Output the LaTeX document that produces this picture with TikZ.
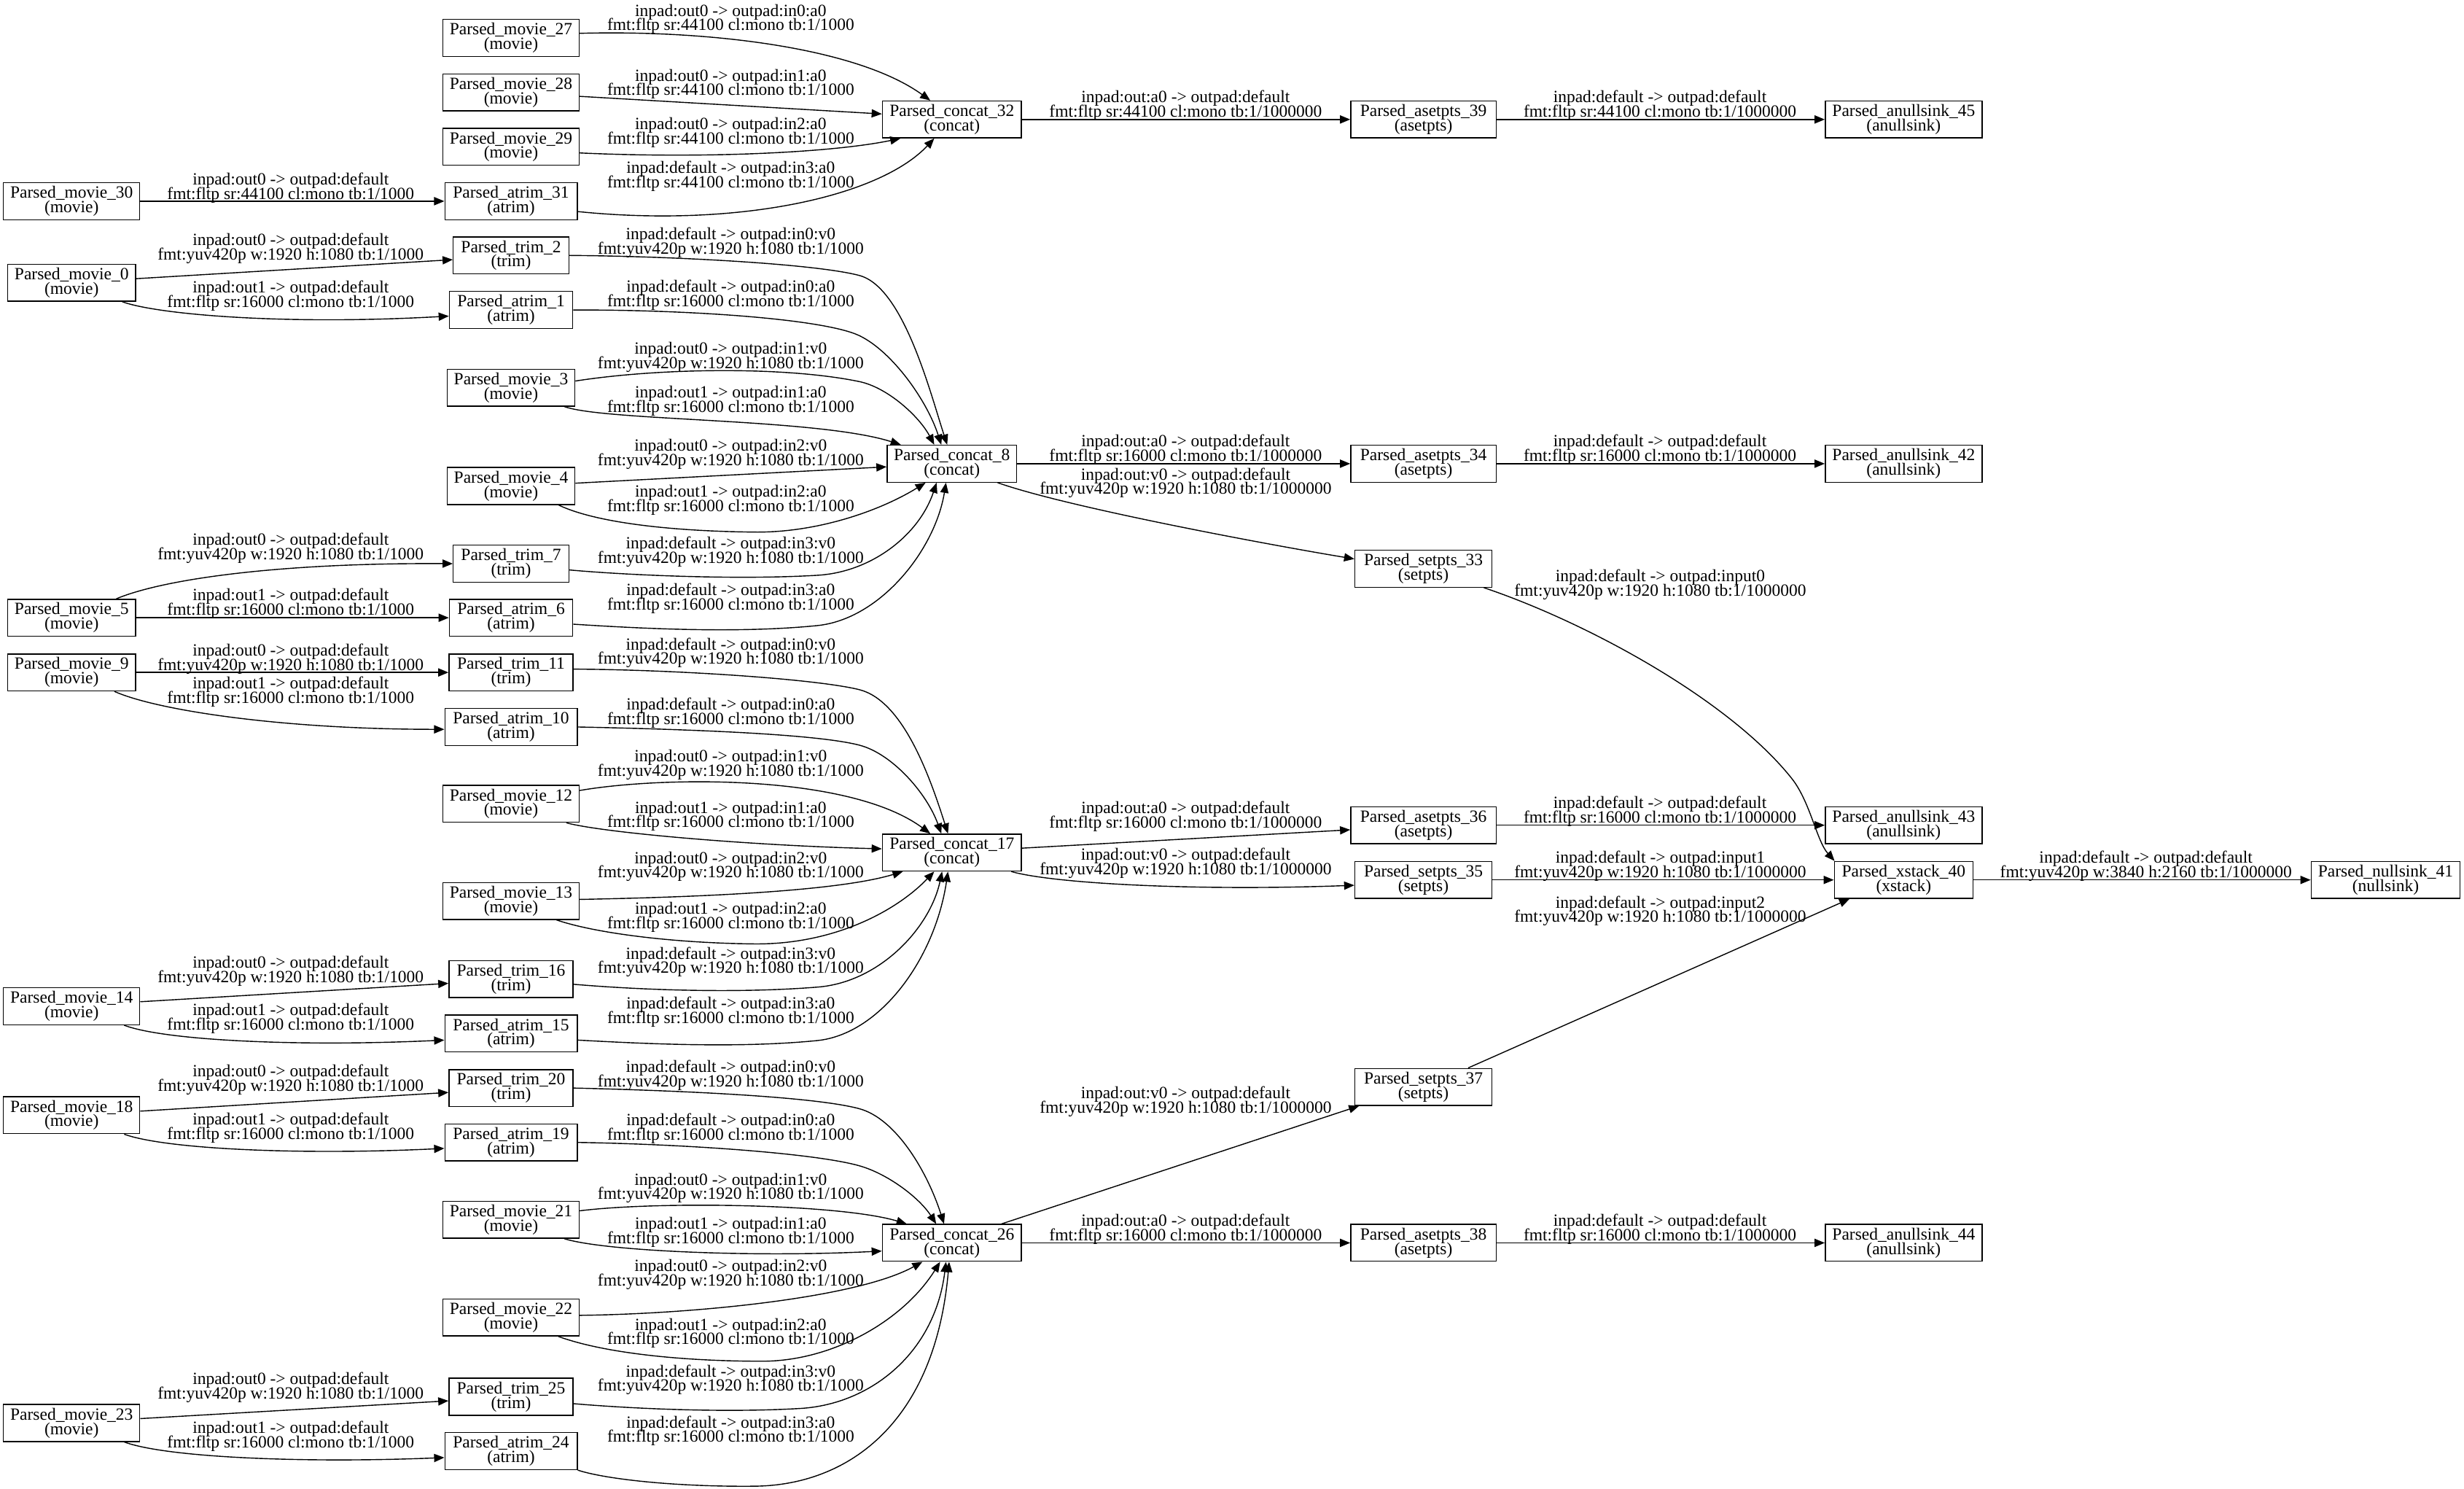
\documentclass[tikz,border=0pt]{standalone}
\usepackage{fontspec}
\setmainfont{Liberation Serif}
\usetikzlibrary{arrows.meta}
\newcommand{\gvfont}{\fontsize{10.9pt}{9.2pt}\selectfont\lineskiplimit=-20pt\relax}
\tikzset{
  box/.style={draw, line width=0.65pt, rectangle, minimum height=23.5pt, inner xsep=3pt, inner ysep=0pt, align=center, font=\gvfont},
  lab/.style={align=center, font=\gvfont, inner sep=0pt},
  edge/.style={draw, line width=0.65pt, -{Triangle[length=6.5pt,width=5.2pt]}},
  mv2/.style={box, minimum width=86.75pt},
  mv1/.style={box, minimum width=81.25pt},
  at2/.style={box, minimum width=84.25pt},
  at1/.style={box, minimum width=78.5pt},
  tr1/.style={box, minimum width=73.5pt},
  tr2/.style={box, minimum width=79pt},
  cc2/.style={box, minimum width=88.5pt},
  cc1/.style={box, minimum width=82.5pt},
  asp/.style={box, minimum width=92.5pt},
  spt/.style={box, minimum width=87.25pt},
  ans/.style={box, minimum width=99.75pt},
}
\begin{document}
\begin{tikzpicture}[x=1pt, y=-1pt]
\useasboundingbox (0,0) rectangle (1568,947);

% column 1
\node[mv2] (m30) at (45.6,128) {Parsed\_movie\_30\\(movie)};
\node[mv1] (m0) at (45.6,179.9) {Parsed\_movie\_0\\(movie)};
\node[mv1] (m5) at (45.6,393) {Parsed\_movie\_5\\(movie)};
\node[mv1] (m9) at (45.6,427.8) {Parsed\_movie\_9\\(movie)};
\node[mv2] (m14) at (45.6,640.2) {Parsed\_movie\_14\\(movie)};
\node[mv2] (m18) at (45.6,709.5) {Parsed\_movie\_18\\(movie)};
\node[mv2] (m23) at (45.6,905.3) {Parsed\_movie\_23\\(movie)};

% column 2
\node[mv2] (m27) at (325.2,24.1) {Parsed\_movie\_27\\(movie)};
\node[mv2] (m28) at (325.2,58.7) {Parsed\_movie\_28\\(movie)};
\node[mv2] (m29) at (325.2,93.4) {Parsed\_movie\_29\\(movie)};
\node[at2] (a31) at (325.2,128) {Parsed\_atrim\_31\\(atrim)};
\node[tr1] (t2) at (325.2,162.5) {Parsed\_trim\_2\\(trim)};
\node[at1] (a1) at (325.2,197.2) {Parsed\_atrim\_1\\(atrim)};
\node[mv1] (m3) at (325.2,246.6) {Parsed\_movie\_3\\(movie)};
\node[mv1] (m4) at (325.2,309.2) {Parsed\_movie\_4\\(movie)};
\node[tr1] (t7) at (325.2,358.6) {Parsed\_trim\_7\\(trim)};
\node[at1] (a6) at (325.2,393) {Parsed\_atrim\_6\\(atrim)};
\node[tr2] (t11) at (325.2,427.8) {Parsed\_trim\_11\\(trim)};
\node[at2] (a10) at (325.2,462.5) {Parsed\_atrim\_10\\(atrim)};
\node[mv2] (m12) at (325.2,511.4) {Parsed\_movie\_12\\(movie)};
\node[mv2] (m13) at (325.2,573.2) {Parsed\_movie\_13\\(movie)};
\node[tr2] (t16) at (325.2,622.9) {Parsed\_trim\_16\\(trim)};
\node[at2] (a15) at (325.2,657.5) {Parsed\_atrim\_15\\(atrim)};
\node[tr2] (t20) at (325.2,692.2) {Parsed\_trim\_20\\(trim)};
\node[at2] (a19) at (325.2,726.8) {Parsed\_atrim\_19\\(atrim)};
\node[mv2] (m21) at (325.2,776) {Parsed\_movie\_21\\(movie)};
\node[mv2] (m22) at (325.2,838.2) {Parsed\_movie\_22\\(movie)};
\node[tr2] (t25) at (325.2,888.6) {Parsed\_trim\_25\\(trim)};
\node[at2] (a24) at (325.2,923.2) {Parsed\_atrim\_24\\(atrim)};

% column 3
\node[cc2] (c32) at (605.75,76) {Parsed\_concat\_32\\(concat)};
\node[cc1] (c8) at (605.75,295) {Parsed\_concat\_8\\(concat)};
\node[cc2] (c17) at (605.75,542.4) {Parsed\_concat\_17\\(concat)};
\node[cc2] (c26) at (605.75,790.7) {Parsed\_concat\_26\\(concat)};

% column 4
\node[asp] (as39) at (905.8,76) {Parsed\_asetpts\_39\\(asetpts)};
\node[asp] (as34) at (905.8,295) {Parsed\_asetpts\_34\\(asetpts)};
\node[spt] (s33) at (905.8,361.8) {Parsed\_setpts\_33\\(setpts)};
\node[asp] (as36) at (905.8,525) {Parsed\_asetpts\_36\\(asetpts)};
\node[spt] (s35) at (905.8,559.8) {Parsed\_setpts\_35\\(setpts)};
\node[spt] (s37) at (905.8,691.5) {Parsed\_setpts\_37\\(setpts)};
\node[asp] (as38) at (905.8,790.7) {Parsed\_asetpts\_38\\(asetpts)};

% column 5
\node[ans] (an45) at (1211.4,76) {Parsed\_anullsink\_45\\(anullsink)};
\node[ans] (an42) at (1211.4,295) {Parsed\_anullsink\_42\\(anullsink)};
\node[ans] (an43) at (1211.4,525) {Parsed\_anullsink\_43\\(anullsink)};
\node[box, minimum width=88.25pt] (x40) at (1211.4,559.8) {Parsed\_xstack\_40\\(xstack)};
\node[ans] (an44) at (1211.4,790.7) {Parsed\_anullsink\_44\\(anullsink)};

% column 6
\node[box, minimum width=94.75pt] (n41) at (1518.1,559.8) {Parsed\_nullsink\_41\\(nullsink)};

% ---------- edges column 1 -> 2
\draw[edge] (m30.east) -- (a31.west);
\draw[edge] ([yshift=2.6pt]m0.east) -- ([yshift=-2.7pt]t2.west);
\draw[edge] ([xshift=-8.75pt]m0.south east) .. controls (100,200) and (180,207) .. ([yshift=-3.9pt]a1.west);
\draw[edge] ([xshift=-12.5pt]m5.north east) .. controls (105,368) and (180,358) .. (t7.west);
\draw[edge] (m5.east) -- (a6.west);
\draw[edge] (m9.east) -- (t11.west);
\draw[edge] ([xshift=-13.75pt]m9.south east) .. controls (100,452) and (180,464) .. ([yshift=-1.5pt]a10.west);
\draw[edge] ([yshift=2.9pt]m14.east) -- ([yshift=-2.7pt]t16.west);
\draw[edge] ([xshift=-10.25pt]m14.south east) .. controls (105,662) and (190,666) .. ([yshift=-4.2pt]a15.west);
\draw[edge] ([yshift=2.6pt]m18.east) -- ([yshift=-2.8pt]t20.west);
\draw[edge] ([xshift=-10.25pt]m18.south east) .. controls (105,731) and (190,735) .. ([yshift=-3.8pt]a19.west);
\draw[edge] ([yshift=2.8pt]m23.east) -- ([yshift=-2.6pt]t25.west);
\draw[edge] ([xshift=-10.25pt]m23.south east) .. controls (105,927) and (190,931) .. ([yshift=-4.1pt]a24.west);

% ---------- edges column 2 -> 3 (concat_32)
\draw[edge] ([yshift=2.9pt]m27.east) .. controls (450,19) and (545,30) .. ([xshift=-13.75pt]c32.north);
\draw[edge] ([yshift=-2.6pt]m28.east) -- ([yshift=3.5pt]c32.west);
\draw[edge] ([yshift=-3.9pt]m29.east) .. controls (450,101) and (530,97) .. ([xshift=-32.75pt]c32.south);
\draw[edge] ([yshift=-6.6pt]a31.east) .. controls (470,145) and (560,125) .. ([xshift=-11.25pt]c32.south);

% concat_8
\draw[edge] (t2.east) .. controls (430,163) and (520,168) .. (547,175.3) .. controls (575,182.9) and (592,250) .. ([xshift=-3pt]c8.north);
\draw[edge] (a1.east) .. controls (440,197) and (525,203) .. (547,213.6) .. controls (568,223.8) and (590,255) .. ([xshift=-6.75pt]c8.north);
\draw[edge] ([yshift=4.2pt]m3.east) .. controls (420,234) and (500,233) .. (547,242.8) .. controls (565,246.6) and (585,265) .. ([xshift=-11.25pt]c8.north);
\draw[edge] ([xshift=-7pt]m3.south east) .. controls (385,268) and (520,266) .. ([xshift=-32.5pt]c8.north);
\draw[edge] ([yshift=1.8pt]m4.east) -- ([yshift=-2pt]c8.west);
\draw[edge] ([xshift=-10.75pt]m4.south east) .. controls (380,333) and (430,338) .. (480,338.5) .. controls (520,339) and (560,325) .. ([xshift=-16.75pt]c8.south);
\draw[edge] ([yshift=-4pt]t7.east) .. controls (400,366) and (470,369) .. (520,366) .. controls (555,364) and (585,340) .. ([xshift=-9.75pt]c8.south);
\draw[edge] ([yshift=-4.1pt]a6.east) .. controls (410,400) and (470,403) .. (520,398) .. controls (560,394) and (595,350) .. ([xshift=-3.75pt]c8.south);

% concat_17
\draw[edge] ([yshift=2.1pt]t11.east) .. controls (430,426) and (520,432) .. (547,438.8) .. controls (575,446) and (592,495) .. ([xshift=-2.5pt]c17.north);
\draw[edge] (a10.east) .. controls (440,464) and (520,467) .. (547,474.1) .. controls (568,479.6) and (590,505) .. ([xshift=-6.75pt]c17.north);
\draw[edge] ([yshift=8.5pt]m12.east) .. controls (420,494) and (540,492) .. ([xshift=-13.75pt]c17.north);
\draw[edge] ([xshift=-8.5pt]m12.south east) .. controls (385,530) and (480,538) .. ([yshift=2.4pt]c17.west);
\draw[edge] ([yshift=1pt]m13.east) .. controls (430,571) and (530,568) .. ([xshift=-31.25pt]c17.south);
\draw[edge] ([xshift=-14.75pt]m13.south east) .. controls (380,594) and (430,600) .. (480,600.5) .. controls (530,601) and (570,580) .. ([xshift=-11.25pt]c17.south);
\draw[edge] ([yshift=-3.3pt]t16.east) .. controls (410,630) and (470,632) .. (520,628) .. controls (560,625) and (592,590) .. ([xshift=-6.25pt]c17.south);
\draw[edge] ([yshift=-4.2pt]a15.east) .. controls (410,664) and (470,667) .. (520,662) .. controls (560,658) and (595,610) .. ([xshift=-2.5pt]c17.south);

% concat_26
\draw[edge] (t20.east) .. controls (440,694) and (520,698) .. (547,705.4) .. controls (570,711.7) and (590,745) .. ([xshift=-5pt]c26.north);
\draw[edge] (a19.east) .. controls (440,728) and (520,734) .. (547,741.7) .. controls (565,746.8) and (585,762) .. ([xshift=-10pt]c26.north);
\draw[edge] ([yshift=5.7pt]m21.east) .. controls (420,764) and (535,766) .. ([xshift=-28.75pt]c26.north);
\draw[edge] ([xshift=-9.75pt]m21.south east) .. controls (385,796) and (480,800) .. ([yshift=-5.2pt]c26.west);
\draw[edge] ([yshift=1.4pt]m22.east) .. controls (440,836) and (545,826) .. ([xshift=-18.75pt]c26.south);
\draw[edge] ([xshift=-13.5pt]m22.south east) .. controls (385,861) and (435,866) .. (485,866) .. controls (530,866) and (575,840) .. ([xshift=-7.5pt]c26.south);
\draw[edge] ([yshift=-4.4pt]t25.east) .. controls (400,896) and (460,899) .. (510,896) .. controls (555,893) and (595,860) .. ([xshift=-3.75pt]c26.south);
\draw[edge] (a24.south east) .. controls (385,941) and (430,946) .. (480,945.5) .. controls (540,945) and (595,905) .. ([xshift=-1.75pt]c26.south);

% ---------- edges column 3 -> 4
\draw[edge] (c32.east) -- (as39.west);
\draw[edge] (c8.east) -- (as34.west);
\draw[edge] ([xshift=-12.5pt]c8.south east) .. controls (680,323) and (810,347) .. ([yshift=6.2pt]s33.west);
\draw[edge] ([yshift=2.8pt]c17.east) -- ([yshift=-2.9pt]as36.west);
\draw[edge] ([xshift=-6.75pt]c17.south east) .. controls (670,562) and (760,567) .. ([yshift=-3.4pt]s35.west);
\draw[edge] ([xshift=-13pt]c26.north east) -- ([xshift=3pt]s37.south west);
\draw[edge] (c26.east) -- (as38.west);

% ---------- edges column 4 -> 5 -> 6
\draw[edge] (as39.east) -- (an45.west);
\draw[edge] (as34.east) -- (an42.west);
\draw[edge] (as36.east) -- (an43.west);
\draw[edge] (s35.east) -- (x40.west);
\draw[edge] ([xshift=-5.5pt]s33.south east) .. controls (1010,396) and (1100,445) .. (1140,495) .. controls (1152,510) and (1156,535) .. ([xshift=0.5pt]x40.north west);
\draw[edge] ([xshift=-15.5pt]s37.north east) -- ([xshift=10pt]x40.south west);
\draw[edge] (as38.east) -- (an44.west);
\draw[edge] (x40.east) -- (n41.west);

% ---------- labels column 1 -> 2
\node[lab] (l01) at (185,119.4) {inpad:out0 -> outpad:default\\fmt:fltp sr:44100 cl:mono tb:1/1000};
\node[lab] (l02) at (185,158.2) {inpad:out0 -> outpad:default\\fmt:yuv420p w:1920 h:1080 tb:1/1000};
\node[lab] (l03) at (185,188.4) {inpad:out1 -> outpad:default\\fmt:fltp sr:16000 cl:mono tb:1/1000};
\node[lab] (l04) at (185,348.6) {inpad:out0 -> outpad:default\\fmt:yuv420p w:1920 h:1080 tb:1/1000};
\node[lab] (l05) at (185,383.9) {inpad:out1 -> outpad:default\\fmt:fltp sr:16000 cl:mono tb:1/1000};
\node[lab] (l06) at (185,419.1) {inpad:out0 -> outpad:default\\fmt:yuv420p w:1920 h:1080 tb:1/1000};
\node[lab] (l07) at (185,440.3) {inpad:out1 -> outpad:default\\fmt:fltp sr:16000 cl:mono tb:1/1000};
\node[lab] (l08) at (185,617.7) {inpad:out0 -> outpad:default\\fmt:yuv420p w:1920 h:1080 tb:1/1000};
\node[lab] (l09) at (185,648.1) {inpad:out1 -> outpad:default\\fmt:fltp sr:16000 cl:mono tb:1/1000};
\node[lab] (l10) at (185,687) {inpad:out0 -> outpad:default\\fmt:yuv420p w:1920 h:1080 tb:1/1000};
\node[lab] (l11) at (185,717.4) {inpad:out1 -> outpad:default\\fmt:fltp sr:16000 cl:mono tb:1/1000};
\node[lab] (l12) at (185,882.8) {inpad:out0 -> outpad:default\\fmt:yuv420p w:1920 h:1080 tb:1/1000};
\node[lab] (l13) at (185,913.8) {inpad:out1 -> outpad:default\\fmt:fltp sr:16000 cl:mono tb:1/1000};

% ---------- labels column 2 -> 3
\node[lab] (l20) at (465,12.2) {inpad:out0 -> outpad:in0:a0\\fmt:fltp sr:44100 cl:mono tb:1/1000};
\node[lab] (l21) at (465,53.5) {inpad:out0 -> outpad:in1:a0\\fmt:fltp sr:44100 cl:mono tb:1/1000};
\node[lab] (l22) at (465,84.4) {inpad:out0 -> outpad:in2:a0\\fmt:fltp sr:44100 cl:mono tb:1/1000};
\node[lab] (l23) at (465,112.2) {inpad:default -> outpad:in3:a0\\fmt:fltp sr:44100 cl:mono tb:1/1000};
\node[lab] (l24) at (465,154.4) {inpad:default -> outpad:in0:v0\\fmt:yuv420p w:1920 h:1080 tb:1/1000};
\node[lab] (l25) at (465,187.9) {inpad:default -> outpad:in0:a0\\fmt:fltp sr:16000 cl:mono tb:1/1000};
\node[lab] (l26) at (465,227.2) {inpad:out0 -> outpad:in1:v0\\fmt:yuv420p w:1920 h:1080 tb:1/1000};
\node[lab] (l27) at (465,255.2) {inpad:out1 -> outpad:in1:a0\\fmt:fltp sr:16000 cl:mono tb:1/1000};
\node[lab] (l28) at (465,289) {inpad:out0 -> outpad:in2:v0\\fmt:yuv420p w:1920 h:1080 tb:1/1000};
\node[lab] (l29) at (465,318.1) {inpad:out1 -> outpad:in2:a0\\fmt:fltp sr:16000 cl:mono tb:1/1000};
\node[lab] (l30) at (465,351) {inpad:default -> outpad:in3:v0\\fmt:yuv420p w:1920 h:1080 tb:1/1000};
\node[lab] (l31) at (465,380.9) {inpad:default -> outpad:in3:a0\\fmt:fltp sr:16000 cl:mono tb:1/1000};
\node[lab] (l32) at (465,415.3) {inpad:default -> outpad:in0:v0\\fmt:yuv420p w:1920 h:1080 tb:1/1000};
\node[lab] (l33) at (465,453.6) {inpad:default -> outpad:in0:a0\\fmt:fltp sr:16000 cl:mono tb:1/1000};
\node[lab] (l34) at (465,486.7) {inpad:out0 -> outpad:in1:v0\\fmt:yuv420p w:1920 h:1080 tb:1/1000};
\node[lab] (l35) at (465,519.3) {inpad:out1 -> outpad:in1:a0\\fmt:fltp sr:16000 cl:mono tb:1/1000};
\node[lab] (l36) at (465,551.3) {inpad:out0 -> outpad:in2:v0\\fmt:yuv420p w:1920 h:1080 tb:1/1000};
\node[lab] (l37) at (465,583.6) {inpad:out1 -> outpad:in2:a0\\fmt:fltp sr:16000 cl:mono tb:1/1000};
\node[lab] (l38) at (465,612) {inpad:default -> outpad:in3:v0\\fmt:yuv420p w:1920 h:1080 tb:1/1000};
\node[lab] (l39) at (465,643.6) {inpad:default -> outpad:in3:a0\\fmt:fltp sr:16000 cl:mono tb:1/1000};
\node[lab] (l40) at (465,684) {inpad:default -> outpad:in0:v0\\fmt:yuv420p w:1920 h:1080 tb:1/1000};
\node[lab] (l41) at (465,718) {inpad:default -> outpad:in0:a0\\fmt:fltp sr:16000 cl:mono tb:1/1000};
\node[lab] (l42) at (465,755.9) {inpad:out0 -> outpad:in1:v0\\fmt:yuv420p w:1920 h:1080 tb:1/1000};
\node[lab] (l43) at (465,783.9) {inpad:out1 -> outpad:in1:a0\\fmt:fltp sr:16000 cl:mono tb:1/1000};
\node[lab] (l44) at (465,811) {inpad:out0 -> outpad:in2:v0\\fmt:yuv420p w:1920 h:1080 tb:1/1000};
\node[lab] (l45) at (465,848.2) {inpad:out1 -> outpad:in2:a0\\fmt:fltp sr:16000 cl:mono tb:1/1000};
\node[lab] (l46) at (465,877.8) {inpad:default -> outpad:in3:v0\\fmt:yuv420p w:1920 h:1080 tb:1/1000};
\node[lab] (l47) at (465,910.3) {inpad:default -> outpad:in3:a0\\fmt:fltp sr:16000 cl:mono tb:1/1000};

% ---------- labels column 3 -> 4
\node[lab] (l50) at (754.5,67.2) {inpad:out:a0 -> outpad:default\\fmt:fltp sr:44100 cl:mono tb:1/1000000};
\node[lab] (l51) at (754.5,286.2) {inpad:out:a0 -> outpad:default\\fmt:fltp sr:16000 cl:mono tb:1/1000000};
\node[lab] (l52) at (754.5,307.2) {inpad:out:v0 -> outpad:default\\fmt:yuv420p w:1920 h:1080 tb:1/1000000};
\node[lab] (l53) at (754.5,519.5) {inpad:out:a0 -> outpad:default\\fmt:fltp sr:16000 cl:mono tb:1/1000000};
\node[lab] (l54) at (754.5,549.1) {inpad:out:v0 -> outpad:default\\fmt:yuv420p w:1920 h:1080 tb:1/1000000};
\node[lab] (l55) at (754.5,700.9) {inpad:out:v0 -> outpad:default\\fmt:yuv420p w:1920 h:1080 tb:1/1000000};
\node[lab] (l56) at (754.5,782.1) {inpad:out:a0 -> outpad:default\\fmt:fltp sr:16000 cl:mono tb:1/1000000};

% ---------- labels column 4 -> 5 -> 6
\node[lab] (l60) at (1056.3,67.2) {inpad:default -> outpad:default\\fmt:fltp sr:44100 cl:mono tb:1/1000000};
\node[lab] (l61) at (1056.3,286.2) {inpad:default -> outpad:default\\fmt:fltp sr:16000 cl:mono tb:1/1000000};
\node[lab] (l62) at (1056.5,372.1) {inpad:default -> outpad:input0\\fmt:yuv420p w:1920 h:1080 tb:1/1000000};
\node[lab] (l63) at (1056.3,516.3) {inpad:default -> outpad:default\\fmt:fltp sr:16000 cl:mono tb:1/1000000};
\node[lab] (l64) at (1056.5,550.9) {inpad:default -> outpad:input1\\fmt:yuv420p w:1920 h:1080 tb:1/1000000};
\node[lab] (l65) at (1056.5,579.5) {inpad:default -> outpad:input2\\fmt:yuv420p w:1920 h:1080 tb:1/1000000};
\node[lab] (l66) at (1056.3,782.1) {inpad:default -> outpad:default\\fmt:fltp sr:16000 cl:mono tb:1/1000000};
\node[lab] (l67) at (1365.6,550.9) {inpad:default -> outpad:default\\fmt:yuv420p w:3840 h:2160 tb:1/1000000};
\end{tikzpicture}
\end{document}
